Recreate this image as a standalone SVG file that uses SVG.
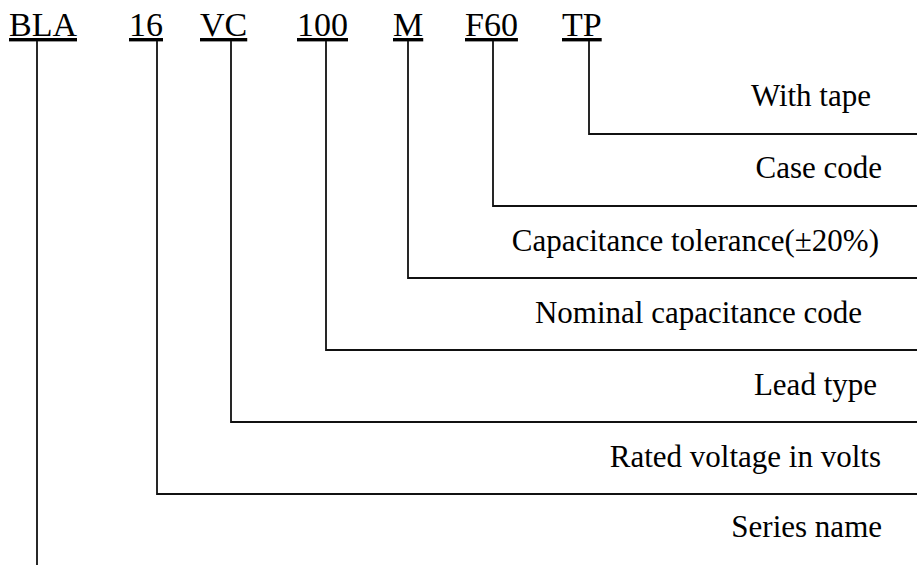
<svg xmlns="http://www.w3.org/2000/svg" width="917" height="565" viewBox="0 0 917 565">
<style>
.code{font-family:"Liberation Serif","Times New Roman",serif;font-size:34px;fill:#000;text-decoration:underline}
.lbl{font-family:"Liberation Serif","Times New Roman",serif;font-size:31px;fill:#000;text-anchor:end}
.ln{fill:none;stroke:#111;stroke-width:1.8}
</style>
<rect width="917" height="565" fill="#fff"/>
<g id="codes">
<text id="c-bla" class="code" x="9" y="36">BLA</text>
<text id="c-16" class="code" x="129" y="36">16</text>
<text id="c-vc" class="code" x="200" y="36">VC</text>
<text id="c-100" class="code" x="297" y="36">100</text>
<text id="c-m" class="code" x="393" y="36">M</text>
<text id="c-f60" class="code" x="465" y="36">F60</text>
<text id="c-tp" class="code" x="562" y="36">TP</text>
</g>
<g id="labels">
<text id="l-tape" class="lbl" x="871" y="106">With tape</text>
<text id="l-case" class="lbl" x="882" y="178">Case code</text>
<text id="l-tol" class="lbl" x="879" y="251">Capacitance tolerance(±20%)</text>
<text id="l-nom" class="lbl" x="862" y="323">Nominal capacitance code</text>
<text id="l-lead" class="lbl" x="877" y="395">Lead type</text>
<text id="l-volt" class="lbl" x="881" y="467">Rated voltage in volts</text>
<text id="l-series" class="lbl" x="882" y="537">Series name</text>
</g>
<g id="connectors">
<path class="ln" d="M589 41V134H917"/>
<path class="ln" d="M493 41V206H917"/>
<path class="ln" d="M408 41V278H917"/>
<path class="ln" d="M326 41V350H917"/>
<path class="ln" d="M231 41V422H917"/>
<path class="ln" d="M157 41V494H917"/>
<path class="ln" d="M37 41V565"/>
</g>
</svg>
